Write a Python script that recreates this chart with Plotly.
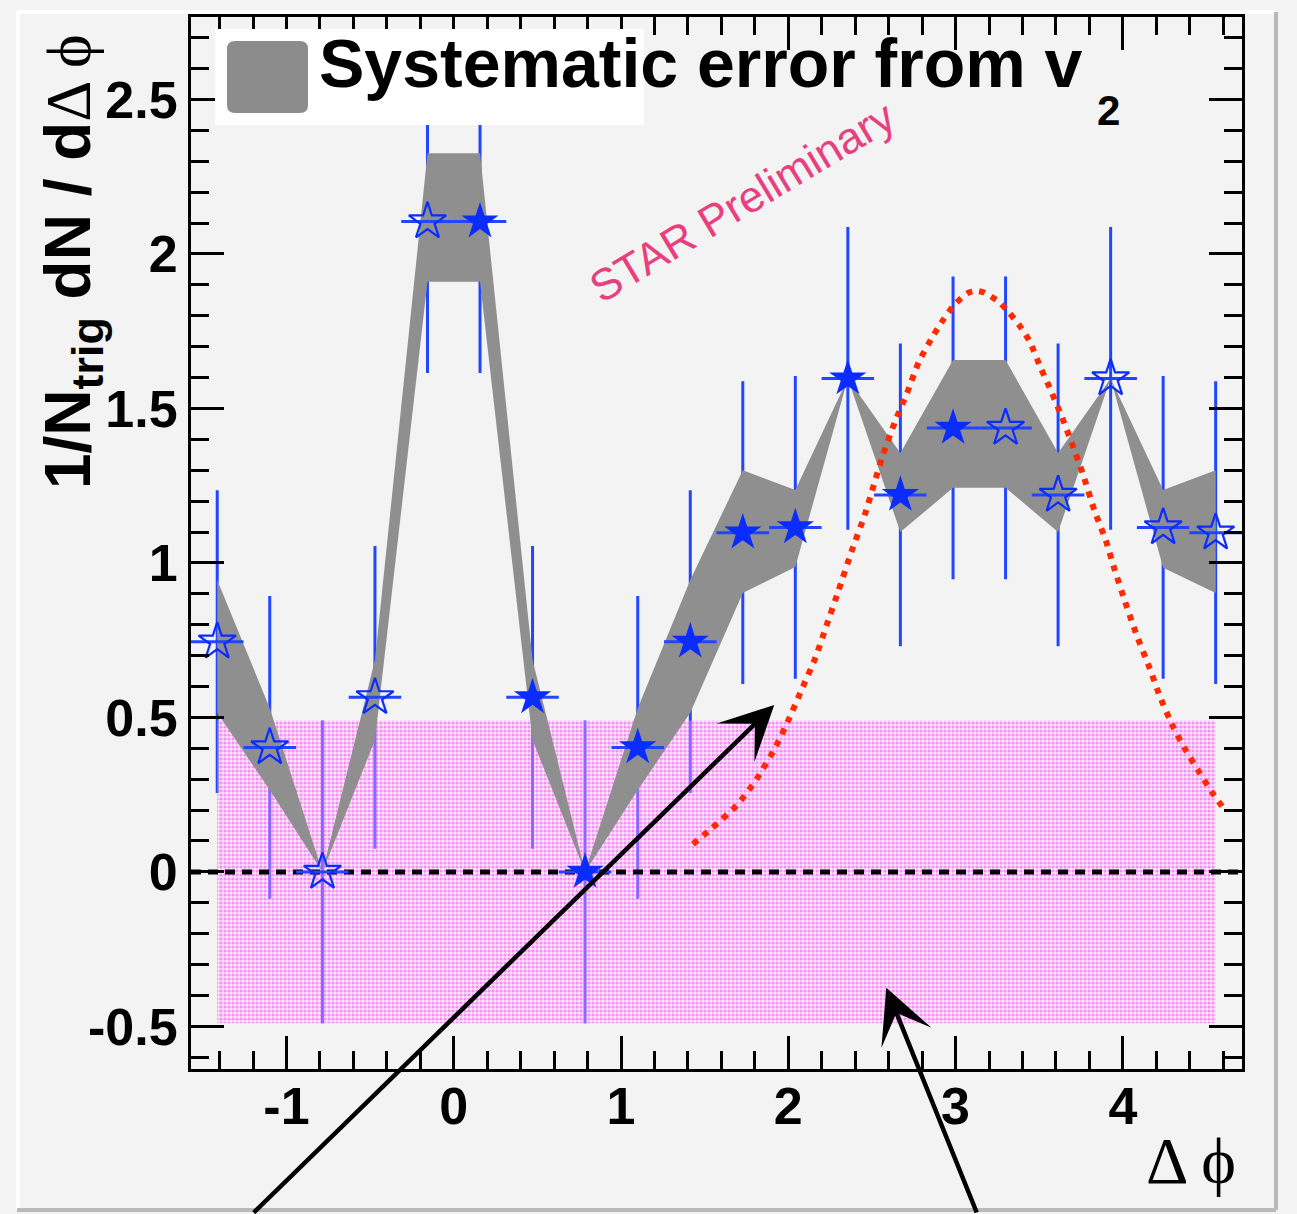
import math
import plotly.graph_objects as go

# Delta-phi bin centres (pi/10 wide) and measured yields
filled_x = [0.157, 0.471, 0.785, 1.100, 1.414, 1.728, 2.042, 2.356, 2.670, 2.985]
filled_y = [2.105, 0.565, 0.000, 0.403, 0.745, 1.098, 1.115, 1.597, 1.220, 1.437]
# reflected points
open_x = [-1.414, -1.100, -0.785, -0.471, -0.157, 3.299, 3.613, 3.927, 4.241, 4.555]
open_y = [0.745, 0.403, 0.000, 0.565, 2.105, 1.437, 1.220, 1.597, 1.115, 1.098]
stat_err = 0.49
bin_half_width = 0.157

# systematic band from v2 (all bins, ordered)
band_x = [-1.414, -1.100, -0.785, -0.471, -0.157, 0.157, 0.471, 0.785, 1.100, 1.414,
          1.728, 2.042, 2.356, 2.670, 2.985, 3.299, 3.613, 3.927, 4.241, 4.555]
band_lo = [0.515, 0.265, 0.000, 0.427, 1.910, 1.910, 0.427, 0.000, 0.265, 0.515,
           0.903, 0.987, 1.597, 1.100, 1.243, 1.243, 1.100, 1.597, 0.984, 0.903]
band_hi = [0.945, 0.530, 0.000, 0.686, 2.326, 2.326, 0.686, 0.000, 0.530, 0.945,
           1.300, 1.236, 1.597, 1.356, 1.657, 1.657, 1.356, 1.597, 1.236, 1.300]

# pink box
pink_x = [-1.414, 4.555]
pink_y = [-0.49, 0.49]

# away-side reference curve
curve_x = [1.43, 1.54, 1.70, 1.81, 1.92, 2.00, 2.08, 2.16, 2.23, 2.30, 2.38, 2.46, 2.56,
           2.64, 2.71, 2.78, 2.86, 2.93, 3.00, 3.08, 3.13, 3.17, 3.26, 3.32, 3.38, 3.44,
           3.51, 3.56, 3.63, 3.70, 3.76, 3.83, 3.90, 3.95, 4.01, 4.08, 4.16, 4.22, 4.30,
           4.38, 4.46, 4.53, 4.61]
curve_y = [0.09, 0.14, 0.22, 0.30, 0.40, 0.49, 0.59, 0.69, 0.80, 0.91, 1.04, 1.16, 1.34,
           1.46, 1.55, 1.65, 1.73, 1.79, 1.84, 1.875, 1.88, 1.875, 1.845, 1.81, 1.77, 1.72,
           1.63, 1.57, 1.48, 1.38, 1.29, 1.17, 1.07, 0.98, 0.88, 0.77, 0.66, 0.57, 0.47,
           0.39, 0.32, 0.26, 0.20]

x_ticks = [-1, 0, 1, 2, 3, 4]
x_ticktext = ["-1", "0", "1", "2", "3", "4"]
y_ticks = [-0.5, 0, 0.5, 1, 1.5, 2, 2.5]
y_ticktext = ["-0.5", "0", "0.5", "1", "1.5", "2", "2.5"]

X_RANGE = [-math.pi / 2, 3 * math.pi / 2]
Y_RANGE = [-0.638, 2.767]

W, H = 1297, 1214
ML, MR, MT, MB = 191, 55, 17, 145
PW, PH = W - ML - MR, H - MT - MB


def px(x):
    return (x - ML) / PW


def py(y):
    return (H - MB - y) / PH


BLUE = "#0b2cff"
BAR_BLUE = "#2146ff"
BG = "#f3f3f3"

fig = go.Figure()

all_x = open_x + filled_x
all_y = open_y + filled_y

# vertical statistical errors (under the band)
fig.add_trace(go.Scatter(
    x=all_x, y=all_y, mode="markers",
    marker=dict(size=1, color="rgba(0,0,0,0)"),
    error_y=dict(type="constant", value=stat_err, color=BAR_BLUE, thickness=3, width=0),
    hoverinfo="skip", showlegend=False))

# dotted pink box
fig.add_trace(go.Scatter(
    x=[pink_x[0], pink_x[1], pink_x[1], pink_x[0], pink_x[0]],
    y=[pink_y[0], pink_y[0], pink_y[1], pink_y[1], pink_y[0]],
    mode="lines", line=dict(width=0), fill="toself",
    fillcolor="rgba(0,0,0,0)",
    fillpattern=dict(shape=".", fgcolor="#ff30ff", bgcolor="rgba(250,205,250,0.35)",
                     size=4, solidity=0.5),
    hoverinfo="skip", showlegend=False))

# systematic band
fig.add_trace(go.Scatter(
    x=band_x + band_x[::-1], y=band_hi + band_lo[::-1],
    mode="lines", line=dict(width=0), fill="toself", fillcolor="#8f8f8f",
    hoverinfo="skip", showlegend=False))

# reference curve
fig.add_trace(go.Scatter(
    x=curve_x, y=curve_y, mode="lines",
    line=dict(color="#ff2a00", width=6, dash="6px,7px", shape="spline", smoothing=0.6),
    hoverinfo="skip", showlegend=False))

# zero line
fig.add_trace(go.Scatter(
    x=X_RANGE, y=[0, 0], mode="lines",
    line=dict(color="black", width=5, dash="10px,7px"),
    hoverinfo="skip", showlegend=False))

# reflected points
fig.add_trace(go.Scatter(
    x=open_x, y=open_y, mode="markers",
    marker=dict(symbol="star-open", size=28, color=BLUE, line=dict(width=2.2, color=BLUE)),
    error_x=dict(type="constant", value=bin_half_width, color=BAR_BLUE, thickness=3, width=0),
    hoverinfo="skip", showlegend=False))

# measured points
fig.add_trace(go.Scatter(
    x=filled_x, y=filled_y, mode="markers",
    marker=dict(symbol="star", size=28, color=BLUE, line=dict(width=0)),
    error_x=dict(type="constant", value=bin_half_width, color=BAR_BLUE, thickness=3, width=0),
    hoverinfo="skip", showlegend=False))

axis_common = dict(
    showgrid=False, zeroline=False, showline=True, linecolor="black", linewidth=3,
    mirror="allticks", ticks="inside", ticklen=33, tickwidth=2.5, tickcolor="black",
    tickfont=dict(family="Liberation Sans", size=52, color="black", weight="bold"),
    tickmode="array",
)

fig.update_layout(
    width=W, height=H,
    margin=dict(l=ML, r=MR, t=MT, b=MB, pad=0),
    paper_bgcolor=BG, plot_bgcolor=BG,
    showlegend=False,
    xaxis=dict(range=X_RANGE, tickvals=x_ticks, ticktext=x_ticktext,
               minor=dict(dtick=0.2, tick0=0, ticks="inside", ticklen=18, tickwidth=2.5,
                          tickcolor="black", showgrid=False),
               ticklabelstandoff=-10, **axis_common),
    yaxis=dict(range=Y_RANGE, tickvals=y_ticks, ticktext=y_ticktext,
               minor=dict(dtick=0.1, tick0=0, ticks="inside", ticklen=18, tickwidth=2.5,
                          tickcolor="black", showgrid=False),
               ticklabelstandoff=0, **axis_common),
)

# legend box and canvas bevel
shapes = [
    dict(type="rect", xref="paper", yref="paper", x0=px(215), x1=px(644), y0=py(125), y1=py(29),
         fillcolor="white", line=dict(width=0), layer="above"),
]
r = 8
x0, x1, y0, y1 = 227, 308, 41, 113
path = (f"M {px(x0 + r)} {py(y0)} L {px(x1 - r)} {py(y0)} "
        f"Q {px(x1)} {py(y0)} {px(x1)} {py(y0 + r)} L {px(x1)} {py(y1 - r)} "
        f"Q {px(x1)} {py(y1)} {px(x1 - r)} {py(y1)} L {px(x0 + r)} {py(y1)} "
        f"Q {px(x0)} {py(y1)} {px(x0)} {py(y1 - r)} L {px(x0)} {py(y0 + r)} "
        f"Q {px(x0)} {py(y0)} {px(x0 + r)} {py(y0)} Z")
shapes.append(dict(type="path", xref="paper", yref="paper", path=path,
                   fillcolor="#8c8c8c", line=dict(width=0), layer="above"))
for (xa, ya, xb, yb, col) in [(17, 12, 1276, 12, "white"), (18, 12, 18, 1210, "white"),
                              (1276, 12, 1276, 1210, "#b9b9b9"), (17, 1210, 1276, 1210, "#b9b9b9")]:
    shapes.append(dict(type="line", xref="paper", yref="paper",
                       x0=px(xa), y0=py(ya), x1=px(xb), y1=py(yb),
                       line=dict(color=col, width=4), layer="below"))
fig.update_layout(shapes=shapes)

ann = []
ann.append(dict(xref="paper", yref="paper", x=px(317), y=py(63), xanchor="left", yanchor="middle",
                text="<b>Systematic error from v</b>", showarrow=False,
                font=dict(family="Liberation Sans", size=68, color="black")))
ann.append(dict(xref="paper", yref="paper", x=px(1108), y=py(110), xanchor="center", yanchor="middle",
                text="<b>2</b>", showarrow=False,
                font=dict(family="Liberation Sans", size=42, color="black")))
ann.append(dict(xref="paper", yref="paper", x=px(742), y=py(202), xanchor="center", yanchor="middle",
                text="STAR Preliminary", textangle=-31, showarrow=False,
                font=dict(family="Liberation Sans", size=44, color="#e8407e")))
ann.append(dict(xref="paper", yref="paper", x=px(72), y=py(262), xanchor="center", yanchor="middle",
                text="<b>1/N<sub>trig</sub> dN / d</b><span style=\"font-family:'Liberation Serif'\">Δ ϕ</span>",
                textangle=-90, showarrow=False,
                font=dict(family="Liberation Sans", size=64, color="black")))
ann.append(dict(xref="paper", yref="paper", x=px(1238), y=py(1160), xanchor="right", yanchor="middle",
                text="Δ ϕ", showarrow=False,
                font=dict(family="Liberation Serif", size=66, color="black")))
# arrows pointing into the plot
ann.append(dict(xref="x", yref="y", x=1.916, y=0.540, ax=-522, ay=530, axref="pixel", ayref="pixel",
                text="", showarrow=True, arrowhead=3, arrowsize=2, arrowwidth=4.5, arrowcolor="black",
                standoff=0))
ann.append(dict(xref="x", yref="y", x=2.586, y=-0.375, ax=91, ay=247, axref="pixel", ayref="pixel",
                text="", showarrow=True, arrowhead=3, arrowsize=2, arrowwidth=4.5, arrowcolor="black",
                standoff=0))
fig.update_layout(annotations=ann)

fig.write_html("out.html")
